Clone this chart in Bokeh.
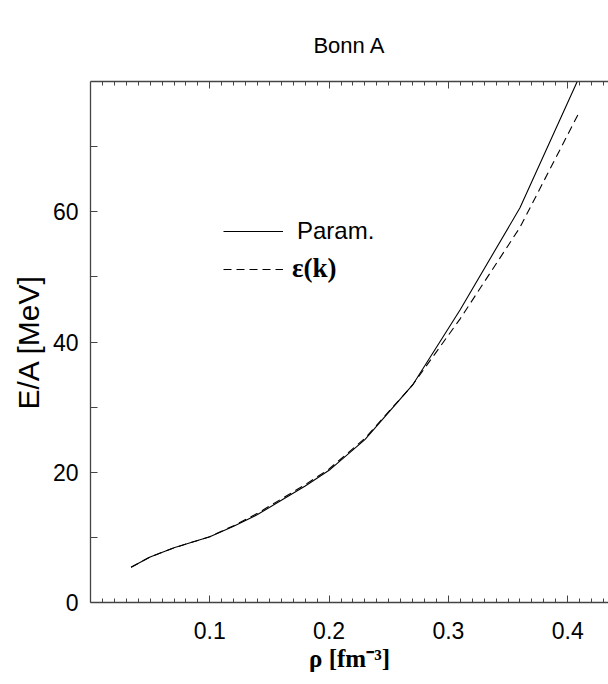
from bokeh.plotting import figure
from bokeh.models import FixedTicker, LinearAxis, Legend, LegendItem, Range1d
from bokeh.embed import file_html
from bokeh.resources import INLINE

# Data
rho_param = [0.034, 0.05, 0.07, 0.10, 0.12, 0.14, 0.16, 0.18, 0.20, 0.23, 0.27, 0.31, 0.36, 0.408]
ea_param = [5.4, 7.0, 8.4, 10.1, 11.7, 13.5, 15.7, 17.9, 20.3, 25.0, 33.4, 45.0, 60.6, 80.0]
rho_eps = [0.034, 0.05, 0.07, 0.10, 0.12, 0.14, 0.16, 0.18, 0.20, 0.23, 0.27, 0.31, 0.36, 0.41]
ea_eps = [5.4, 7.0, 8.4, 10.1, 11.8, 13.7, 15.9, 18.1, 20.5, 25.2, 33.4, 43.6, 57.6, 75.4]

x_ticks = [0.1, 0.2, 0.3, 0.4]
x_minor = [i / 100 for i in range(1, 44)]
y_ticks = [0, 20, 40, 60]
y_minor = [10, 30, 50, 70]

title_text = "Bonn A"
x_label = "ρ [fm⁻³]"
y_label = "E/A [MeV]"
legend_labels = ["Param.", "ε(k)"]

AX = "#444444"
SANS = "Liberation Sans"
SERIF = "Liberation Serif"

p = figure(width=608, height=684, x_range=Range1d(0, 0.4342), y_range=Range1d(0, 80),
           output_backend="svg", toolbar_location=None,
           min_border_left=90, min_border_right=0, min_border_top=81, min_border_bottom=82)
p.outline_line_color = None
p.grid.visible = False
p.background_fill_color = "white"
p.border_fill_color = "white"

p.title.text = title_text
p.title.align = "center"
p.title.text_font = SANS
p.title.text_font_size = "22px"
p.title.text_font_style = "normal"
p.title.text_color = "black"
p.title.standoff = 48

r1 = p.line(rho_param, ea_param, line_color="black", line_width=1.1)
r2 = p.line(rho_eps, ea_eps, line_color="black", line_width=1.1, line_dash="8 5")

def style_axis(ax):
    ax.axis_line_color = AX
    ax.axis_line_width = 1.3
    ax.major_tick_line_color = AX
    ax.minor_tick_line_color = AX
    ax.major_tick_out = 0
    ax.minor_tick_out = 0
    ax.major_label_text_font = SANS
    ax.major_label_text_font_size = "23px"
    ax.major_label_text_color = "black"
    ax.axis_label_text_color = "black"

xa = p.xaxis[0]
xa.ticker = FixedTicker(ticks=x_ticks, minor_ticks=x_minor)
style_axis(xa)
xa.major_tick_in = 7
xa.minor_tick_in = 4
xa.major_label_standoff = 19
xa.axis_label = x_label
xa.axis_label_text_font = SERIF
xa.axis_label_text_font_style = "bold"
xa.axis_label_text_font_size = "25px"
xa.axis_label_standoff = 3

ya = p.yaxis[0]
ya.ticker = FixedTicker(ticks=y_ticks, minor_ticks=y_minor)
style_axis(ya)
ya.major_tick_in = 7
ya.minor_tick_in = 7
ya.major_label_standoff = 12
ya.axis_label = y_label
ya.axis_label_text_font = SANS
ya.axis_label_text_font_style = "normal"
ya.axis_label_text_font_size = "30px"
ya.axis_label_standoff = 5

top = LinearAxis(ticker=FixedTicker(ticks=x_ticks, minor_ticks=x_minor))
style_axis(top)
top.major_tick_in = 7
top.minor_tick_in = 4
top.major_label_text_font_size = "0px"
top.major_label_standoff = 0
p.add_layout(top, "above")

leg1 = Legend(items=[LegendItem(label=legend_labels[0], renderers=[r1])], location=(133, 357),
              glyph_width=60, glyph_height=24, label_height=24, label_standoff=14,
              padding=0, margin=0, border_line_color=None, background_fill_alpha=0,
              label_text_font=SANS, label_text_font_size="24px", label_text_color="black")
leg2 = Legend(items=[LegendItem(label=legend_labels[1], renderers=[r2])], location=(133, 318),
              glyph_width=60, glyph_height=24, label_height=24, label_standoff=9,
              padding=0, margin=0, border_line_color=None, background_fill_alpha=0,
              label_text_font=SERIF, label_text_font_style="bold", label_text_font_size="27px",
              label_text_color="black")
p.add_layout(leg1)
p.add_layout(leg2)

open("out.html", "w").write(file_html(p, INLINE))
